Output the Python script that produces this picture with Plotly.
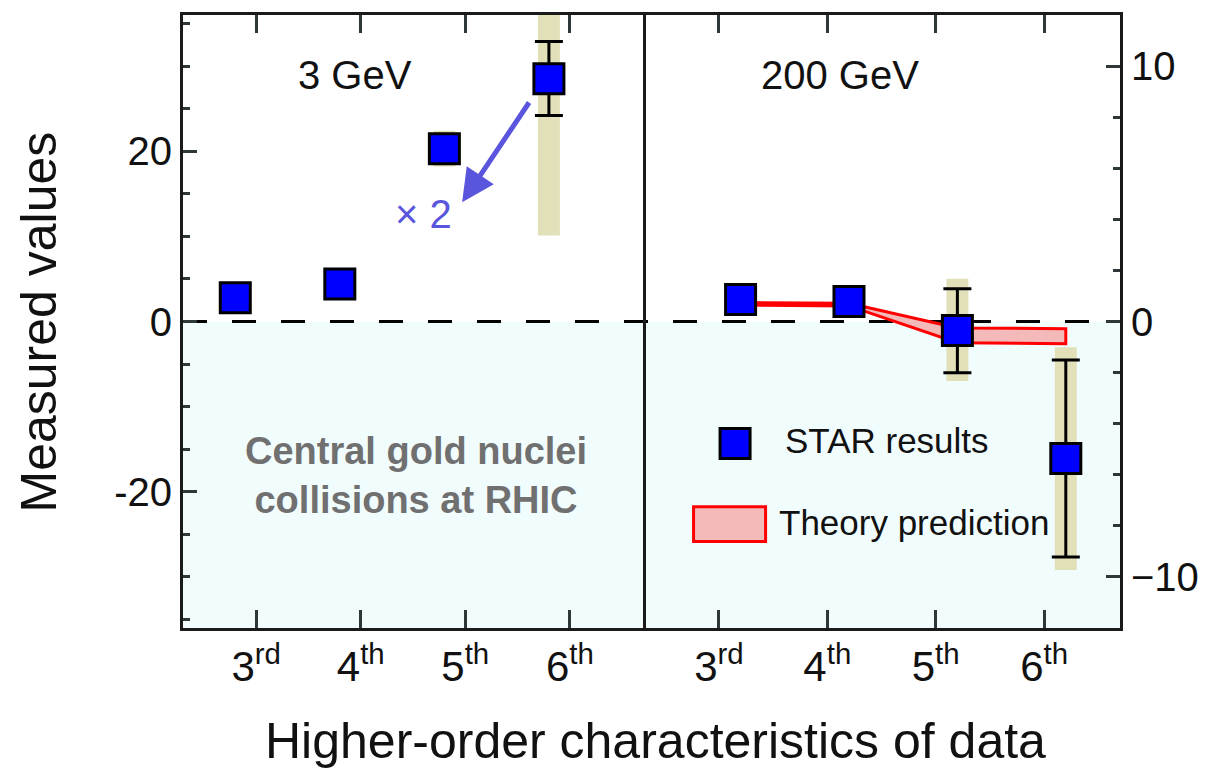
import plotly.graph_objects as go

# ---------------- data ----------------
order_labels = ["3<sup>rd</sup>", "4<sup>th</sup>", "5<sup>th</sup>", "6<sup>th</sup>"]
order_pos = [1, 2, 3, 4]

# 3 GeV panel
gev3_values = [2.8, 4.4, 20.3, 28.5]
gev3_err_plus = [0, 0, 0, 4.4]
gev3_err_minus = [0, 0, 0, 4.3]
gev3_sys_low = [1.8, 3.4, 18.2, 10.1]
gev3_sys_high = [3.8, 5.4, 22.4, 40.0]

# 200 GeV panel
gev200_values = [0.86, 0.78, -0.35, -5.36]
gev200_err_plus = [0, 0, 1.63, 3.85]
gev200_err_minus = [0, 0, 1.66, 3.86]
gev200_sys_low = [0.5, 0.4, -2.33, -9.73]
gev200_sys_high = [1.2, 1.1, 1.67, -1.01]
theory_upper = [0.74, 0.71, -0.25, -0.28]
theory_lower = [0.64, 0.61, -0.83, -0.87]

left_yrange = [-36, 36]
right_yrange = [-12, 12]
xrange = [0.3, 4.7]

FONT = "Liberation Sans, Arial, Helvetica, sans-serif"
TAN = "#e2e0b9"
CYAN = "#f1fcfd"
BLUE = "#0000ff"
ARROW = "#5a55dd"
FRAME = "#1a1a1a"
TICK = "#2e3838"

x_left = [p - 0.2 for p in order_pos]
x_right = [p + 0.2 for p in order_pos]

fig = go.Figure()

# systematic bands (tan)
fig.add_trace(go.Bar(x=x_left, y=[h - l for h, l in zip(gev3_sys_high, gev3_sys_low)],
                     base=gev3_sys_low, width=0.21, marker=dict(color=TAN, line=dict(width=0)),
                     xaxis="x", yaxis="y", showlegend=False, hoverinfo="skip"))
fig.add_trace(go.Bar(x=x_right, y=[h - l for h, l in zip(gev200_sys_high, gev200_sys_low)],
                     base=gev200_sys_low, width=0.203, marker=dict(color=TAN, line=dict(width=0)),
                     xaxis="x2", yaxis="y2", showlegend=False, hoverinfo="skip"))

# theory band
fig.add_trace(go.Scatter(x=x_right + x_right[::-1], y=theory_upper + theory_lower[::-1],
                         fill="toself", fillcolor="#f4b9b9", mode="lines",
                         line=dict(color="#ff0000", width=3),
                         xaxis="x2", yaxis="y2", showlegend=False, hoverinfo="skip"))

# data points
fig.add_trace(go.Scatter(x=x_left, y=gev3_values, mode="markers",
                         marker=dict(symbol="square", size=30, color=BLUE, line=dict(color="black", width=3)),
                         error_y=dict(type="data", symmetric=False, array=gev3_err_plus,
                                      arrayminus=gev3_err_minus, thickness=3, width=14, color="black"),
                         xaxis="x", yaxis="y", showlegend=False))
fig.add_trace(go.Scatter(x=x_right, y=gev200_values, mode="markers",
                         marker=dict(symbol="square", size=30, color=BLUE, line=dict(color="black", width=3)),
                         error_y=dict(type="data", symmetric=False, array=gev200_err_plus,
                                      arrayminus=gev200_err_minus, thickness=3, width=14, color="black"),
                         xaxis="x2", yaxis="y2", showlegend=False))

shapes = [
    dict(type="rect", xref="x domain", x0=0, x1=1, yref="y", y0=left_yrange[0], y1=0,
         fillcolor=CYAN, line=dict(width=0), layer="below"),
    dict(type="rect", xref="x2 domain", x0=0, x1=1, yref="y2", y0=right_yrange[0], y1=0,
         fillcolor=CYAN, line=dict(width=0), layer="below"),
    dict(type="line", xref="paper", x0=0, x1=1, yref="y", y0=0, y1=0,
         line=dict(color="black", width=3, dash="24px,25px"), layer="below"),
    # legend symbols
    dict(type="rect", xref="x2 domain", yref="y2 domain", xsizemode="pixel", ysizemode="pixel",
         xanchor=0.193, yanchor=0.301, x0=-15, x1=15, y0=-15, y1=15,
         fillcolor=BLUE, line=dict(color="black", width=3)),
    dict(type="rect", xref="x2 domain", yref="y2 domain", x0=0.106, x1=0.257, y0=0.141, y1=0.198,
         fillcolor="#f4b9b9", line=dict(color="#ff0000", width=3)),
]


def txt(text, x, y, size, color="#111", xref="paper", yref="paper", **kw):
    d = dict(text=text, x=x, y=y, xref=xref, yref=yref, showarrow=False,
             xanchor="center", yanchor="middle", font=dict(size=size, color=color, family=FONT))
    d.update(kw)
    return d


annotations = [
    txt("3 GeV", 0.374, 0.902, 40, xref="x domain", yref="y domain"),
    txt("200 GeV", 0.413, 0.902, 40, xref="x2 domain", yref="y2 domain"),
    txt("<b>Central gold nuclei<br>collisions at RHIC</b>", 0.5065, 0.249, 38, color="#707070",
        xref="x domain", yref="y domain"),
    dict(text="", x=2.97, y=14.0, xref="x", yref="y", ax=3.62, ay=25.9, axref="x", ayref="y",
         showarrow=True, arrowhead=2, arrowsize=1.3, arrowwidth=5, arrowcolor=ARROW),
    txt("× 2", 0.522, 0.675, 40, color=ARROW, xref="x domain", yref="y domain"),
    txt("STAR results", 0.2935, 0.306, 35, xref="x2 domain", yref="y2 domain", xanchor="left"),
    txt("Theory prediction", 0.28, 0.172, 35, xref="x2 domain", yref="y2 domain", xanchor="left"),
    txt("Measured values", -0.1537, 0.5, 50, textangle=-90, borderpad=0),
    txt("Higher-order characteristics of data", 0.504, -0.184, 50, borderpad=0),
]

xaxis_common = dict(range=xrange, tickmode="array", tickvals=order_pos, ticktext=order_labels,
                    ticks="inside", ticklen=18, tickwidth=2.5, tickcolor=TICK,
                    showline=True, linewidth=3, linecolor=FRAME, mirror="ticks",
                    showgrid=False, zeroline=False,
                    tickfont=dict(size=42, color="#111", family=FONT))

fig.update_layout(
    width=1205, height=761,
    margin=dict(l=175, r=93, t=4, b=141),
    paper_bgcolor="white", plot_bgcolor="white",
    barmode="overlay", showlegend=False,
    xaxis=dict(domain=[0, 460 / 937], anchor="y", **xaxis_common),
    xaxis2=dict(domain=[460 / 937, 1], anchor="y2", **xaxis_common),
    yaxis=dict(range=left_yrange, anchor="x", tickmode="array", tickvals=[-20, 0, 20],
               ticktext=["-20", "0", "20"], ticks="inside", ticklen=14, tickwidth=2.5, tickcolor=TICK,
               minor=dict(tickmode="linear", tick0=0, dtick=5, ticks="inside", ticklen=7,
                          tickwidth=2.5, tickcolor=TICK),
               showline=True, linewidth=3, linecolor=FRAME, mirror=True,
               showgrid=False, zeroline=False,
               tickfont=dict(size=40, color="#111", family=FONT)),
    yaxis2=dict(range=right_yrange, anchor="x2", side="right", tickmode="array", tickvals=[-10, 0, 10],
                ticktext=["\u221210", "0", "10"], ticks="inside", ticklen=14, tickwidth=2.5, tickcolor=TICK,
                minor=dict(tickmode="linear", tick0=0, dtick=2, ticks="inside", ticklen=7,
                           tickwidth=2.5, tickcolor=TICK),
                showline=True, linewidth=3, linecolor=FRAME, mirror=False,
                showgrid=False, zeroline=False,
                tickfont=dict(size=40, color="#111", family=FONT)),
    shapes=shapes,
    annotations=annotations,
)

fig.write_html("out.html")
